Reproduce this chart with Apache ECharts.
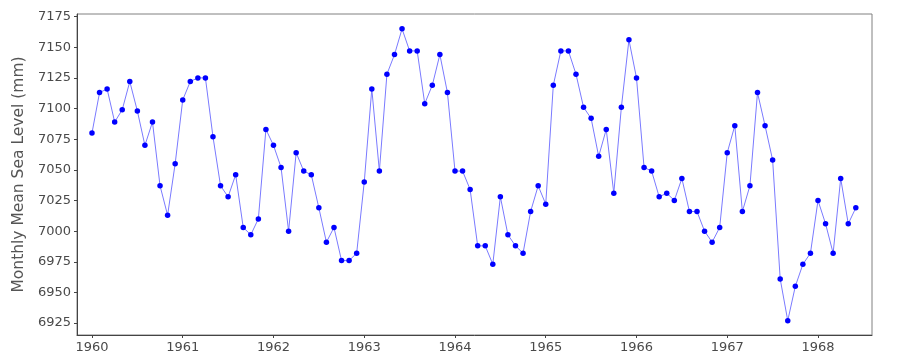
<!DOCTYPE html>
<html><head><meta charset="utf-8">
<script src="https://cdn.jsdelivr.net/npm/echarts@6/dist/echarts.min.js"></script>
<style>html,body{margin:0;padding:0;background:#fff}#c{width:900px;height:360px}</style>
</head><body><div id="c"></div>
<script>
const startYear = 1960;
const seaLevel = [
  7080, 7113, 7116, 7089, 7099, 7122, 7098, 7070, 7089, 7037, 7013, 7055,
  7107, 7122, 7125, 7125, 7077, 7037, 7028, 7046, 7003, 6997, 7010, 7083,
  7070, 7052, 7000, 7064, 7049, 7046, 7019, 6991, 7003, 6976, 6976, 6982,
  7040, 7116, 7049, 7128, 7144, 7165, 7147, 7147, 7104, 7119, 7144, 7113,
  7049, 7049, 7034, 6988, 6988, 6973, 7028, 6997, 6988, 6982, 7016, 7037,
  7022, 7119, 7147, 7147, 7128, 7101, 7092, 7061, 7083, 7031, 7101, 7156,
  7125, 7052, 7049, 7028, 7031, 7025, 7043, 7016, 7016, 7000, 6991, 7003,
  7064, 7086, 7016, 7037, 7113, 7086, 7058, 6961, 6927, 6955, 6973, 6982,
  7025, 7006, 6982, 7043, 7006, 7019
];
const xTicks = [1960, 1961, 1962, 1963, 1964, 1965, 1966, 1967, 1968];
const yTicks = [6925, 6950, 6975, 7000, 7025, 7050, 7075, 7100, 7125, 7150, 7175];

const points = seaLevel.map((v, i) => [startYear + i / 12, v]);
const chart = echarts.init(document.getElementById('c'), null, {renderer: 'canvas'});
const font = 'DejaVu Sans';
chart.setOption({
  animation: false,
  grid: {left: 77, right: 28, top: 14, bottom: 25, show: true, borderColor: '#808080', borderWidth: 1, containLabel: false},
  xAxis: {
    type: 'value', min: 1959.835, max: 1968.595,
    splitLine: {show: false},
    axisLine: {show: true, onZero: false, lineStyle: {color: '#444', width: 1}},
    axisTick: {show: true, length: 3, lineStyle: {color: '#444'}, customValues: xTicks},
    axisLabel: {customValues: xTicks, color: '#4a4a4a', fontFamily: font, fontSize: 13, margin: 6, formatter: v => String(Math.round(v))}
  },
  yAxis: {
    type: 'value', min: 6915.3, max: 7177.1,
    name: 'Monthly Mean Sea Level (mm)', nameLocation: 'middle', nameGap: 48,
    nameTextStyle: {color: '#555', fontFamily: font, fontSize: 15.5},
    splitLine: {show: false},
    axisLine: {show: true, onZero: false, lineStyle: {color: '#444', width: 1}},
    axisTick: {show: true, length: 3, lineStyle: {color: '#444'}, customValues: yTicks},
    axisLabel: {customValues: yTicks, color: '#4a4a4a', fontFamily: font, fontSize: 13, margin: 6, formatter: v => String(Math.round(v))}
  },
  series: [{
    type: 'line', data: points,
    symbol: 'circle', symbolSize: 5.5,
    lineStyle: {color: '#7a7aff', width: 1},
    itemStyle: {color: '#0000ff'},
    emphasis: {disabled: true}
  }]
});
</script></body></html>
